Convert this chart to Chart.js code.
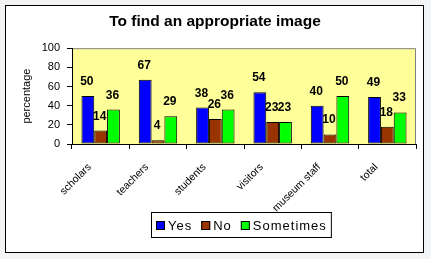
<!DOCTYPE html>
<html><head><meta charset="utf-8">
<script src="https://cdn.jsdelivr.net/npm/chart.js@4"></script>
<style>html,body{margin:0;padding:0;background:#f3f4f6;overflow:hidden}#wrap{width:431px;height:259px}</style>
</head><body><div id="wrap"><canvas id="c" width="431" height="259"></canvas></div>
<script>
const categories = ['scholars', 'teachers', 'students', 'visitors', 'museum staff', 'total'];
const yesValues = [50, 67, 38, 54, 40, 49];
const noValues = [14, 4, 26, 23, 10, 18];
const sometimesValues = [36, 29, 36, 23, 50, 33];
const seriesNames = ['Yes', 'No', 'Sometimes'];
const seriesColors = ['#0000ff', '#993300', '#00ff00'];
const yTicks = [0, 20, 40, 60, 80, 100];
const chartTitle = 'To find an appropriate image';
const yTitle = 'percentage';

const FAMILY = '"Liberation Sans", Arial, sans-serif';

const framePlugin = {
  id: 'frame',
  beforeDraw(chart) {
    const ctx = chart.ctx, a = chart.chartArea;
    ctx.save();
    ctx.fillStyle = '#f3f4f6';
    ctx.fillRect(0, 0, chart.width, chart.height);
    ctx.fillStyle = '#ffffff';
    ctx.fillRect(5, 5, 418, 247);
    ctx.strokeStyle = '#000000';
    ctx.lineWidth = 1;
    ctx.strokeRect(5.5, 5.5, 418, 247);
    ctx.fillStyle = '#ffff99';
    ctx.fillRect(a.left, a.top, a.right - a.left, a.bottom - a.top);
    ctx.strokeStyle = '#808080';
    ctx.beginPath();
    ctx.moveTo(a.left, a.top + 0.5);
    ctx.lineTo(a.right - 0.5, a.top + 0.5);
    ctx.lineTo(a.right - 0.5, a.bottom);
    ctx.stroke();
    ctx.restore();
  }
};

const labelPlugin = {
  id: 'valueLabels',
  afterDatasetsDraw(chart) {
    const ctx = chart.ctx;
    ctx.save();
    ctx.font = 'bold 12px ' + FAMILY;
    ctx.fillStyle = '#000';
    ctx.textAlign = 'center';
    ctx.textBaseline = 'alphabetic';
    chart.data.datasets.forEach((ds, i) => {
      const meta = chart.getDatasetMeta(i);
      meta.data.forEach((bar, j) => {
        ctx.fillText(String(ds.data[j]), bar.x - 1, bar.y - 11);
      });
    });
    ctx.restore();
  }
};

const legendPlugin = {
  id: 'boxLegend',
  beforeDatasetsDraw(chart) {
    const ctx = chart.ctx;
    ctx.save();
    ctx.font = '13px ' + FAMILY;
    try { ctx.letterSpacing = '1px'; } catch (e) {}
    const sq = 9, gapSqText = 3, gapItems = 9, padL = 5, padR = 4;
    const widths = seriesNames.map(n => ctx.measureText(n).width);
    let total = padL + padR;
    widths.forEach((w, i) => { total += sq + gapSqText + w + (i < widths.length - 1 ? gapItems : 0); });
    const cx = 241;
    const left = Math.round(cx - total / 2);
    const top = 212, h = 25;
    ctx.strokeStyle = '#000';
    ctx.lineWidth = 1;
    ctx.strokeRect(left + 0.5, top + 0.5, total, h);
    let x = left + padL;
    const baseline = 230;
    seriesNames.forEach((n, i) => {
      ctx.fillStyle = seriesColors[i];
      ctx.fillRect(x, 221, sq, sq);
      ctx.strokeStyle = '#000';
      ctx.strokeRect(x + 0.5, 221.5, sq - 1, sq - 1);
      x += sq + gapSqText;
      ctx.fillStyle = '#000';
      ctx.textAlign = 'left';
      ctx.textBaseline = 'alphabetic';
      ctx.fillText(n, x, baseline);
      x += widths[i] + gapItems;
    });
    ctx.restore();
  }
};

const valueSets = [yesValues, noValues, sometimesValues];

new Chart(document.getElementById('c'), {
  type: 'bar',
  data: {
    labels: categories,
    datasets: seriesNames.map((name, i) => ({
      label: name,
      data: valueSets[i],
      backgroundColor: seriesColors[i],
      borderColor: '#000000',
      borderWidth: 1,
      borderSkipped: false,
      categoryPercentage: 0.67,
      barPercentage: 1.0
    }))
  },
  options: {
    responsive: false,
    devicePixelRatio: 1,
    animation: false,
    layout: { padding: { left: 14, right: 15, top: 0, bottom: 40 } },
    plugins: {
      legend: { display: false },
      tooltip: { enabled: false },
      title: {
        display: true,
        text: chartTitle,
        color: '#000',
        font: { family: FAMILY, size: 15.5, weight: 'bold' },
        padding: { top: 12.6, bottom: 17 }
      }
    },
    scales: {
      x: {
        offset: true,
        grid: { display: true, drawOnChartArea: false, drawTicks: true, tickLength: 5, color: '#000', offset: true },
        border: { display: true, color: '#000', width: 1 },
        ticks: {
          color: '#000',
          font: { family: FAMILY, size: 10.5 },
          minRotation: 45, maxRotation: 45,
          autoSkip: false,
          padding: 12,
          labelOffset: -11
        },
        afterFit(s) { s.height = 75; }
      },
      y: {
        min: 0, max: 100,
        afterBuildTicks(s) { s.ticks = yTicks.map(v => ({ value: v })); },
        grid: { display: true, drawOnChartArea: false, drawTicks: true, tickLength: 5, color: '#000' },
        border: { display: true, color: '#000', width: 1 },
        ticks: { color: '#000', font: { family: FAMILY, size: 11 }, padding: 7 },
        title: {
          display: true, text: yTitle, color: '#000',
          font: { family: FAMILY, size: 11 },
          padding: { top: 6, bottom: 0 }
        },
        afterFit(s) { s.width = 58; }
      }
    }
  },
  plugins: [framePlugin, labelPlugin, legendPlugin]
});
</script>
</body></html>
